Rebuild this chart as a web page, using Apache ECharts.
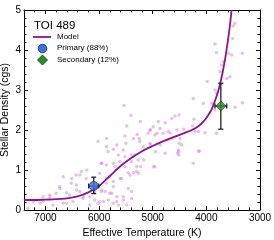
<!DOCTYPE html>
<html>
<head>
<meta charset="utf-8">
<script src="https://cdn.jsdelivr.net/npm/echarts@6/dist/echarts.min.js"></script>
<style>
html,body{margin:0;padding:0;background:#fff;}
#chart{width:274px;height:240px;}
</style>
</head>
<body>
<div id="chart"></div>
<script>
// Model curve (Teff, density)
const modelTeff = [7400, 7200, 7000, 6800, 6600, 6400, 6200, 6000, 5800, 5600, 5400, 5200, 5000, 4800, 4600, 4400, 4300, 4200, 4100, 4000, 3900, 3800, 3750, 3700, 3650, 3600, 3560, 3530];
const modelRho  = [0.25, 0.25, 0.26, 0.27, 0.29, 0.34, 0.44, 0.6, 0.85, 1.1, 1.3, 1.47, 1.6, 1.72, 1.83, 1.93, 1.98, 2.05, 2.15, 2.3, 2.52, 2.88, 3.12, 3.42, 3.78, 4.22, 4.62, 5.0];

// Background stellar sample [Teff, density]
const sampleTeff = [6020,5960,5990,6425,6330,6670,6520,6735,6240,6425,6360,6610,6800,6920,7045,6175,6080,6300,6490,6670,6860,7045,7230,7325,6175,6020,5960,6550,6080,
5536,5405,4510,4585,4645,4770,4895,4990,4865,5050,5085,4960,4805,4710,4645,4490,4505,4525,4535,5485,5290,5250,5240,5360,5520,5500,5670,5550,5830,5735,5640,5520,5330,5270,5395,5610,5735,5860,5950,5705,5520,5300,5300,5455,5360,4960,5800,5610,5735,5860,5455,5890,5765,5670,5830,5550,5920,5735,5395,5640,5950,5860,5175,5050,
3500,3470,3510,3840,3810,3590,3530,3330,3715,3685,3560,3620,3745,3985,3840,3810,4245,4055,3900,3325,3840,3935,3465,4230,4420,4255,4210,4025,3810,4460,4135,4245,
5230,5045,4920,4670,4550,4145,4515,4515,4145,4985,5045,4860,4735,5265,5170,5230,4950,4770,
5860,5395,6230,6355,6510,6420,6295,5985,5800,5670,5550,5395,5485,5735,5580,5425,5860,6730,6915,6605,7100];
const sampleRho = [1.71,1.17,0.92,0.875,0.96,0.83,0.67,0.58,0.79,0.625,0.46,0.43,0.42,0.375,0.33,0.33,0.25,0.29,0.21,0.17,0.125,0.21,0.21,0.04,0.125,0.17,0.46,0.375,0.46,
2.61,2.36,2.375,2.35,2.29,2.18,2.21,2.08,2.04,2.0,1.92,1.875,1.92,1.96,1.79,1.79,1.67,1.5,1.42,2.1,1.89,1.79,1.71,1.79,1.85,1.67,1.625,1.5,1.46,1.52,1.375,1.33,1.375,1.25,1.21,1.21,1.17,1.125,1.17,1.08,1.08,1.08,0.96,0.93,0.93,1.08,0.83,0.79,0.71,0.67,0.54,0.46,0.42,0.33,0.25,0.25,0.21,0.17,0.29,0.125,0.5,1.58,1.58,1.67,
4.6,4.67,4.29,4.15,3.94,3.92,3.875,3.92,3.625,3.71,3.33,3.29,3.46,3.21,3.0,2.92,2.79,2.67,2.67,2.68,2.5,2.43,2.57,2.27,2.02,2.1,1.96,1.93,1.92,1.625,1.48,1.17,
2.21,2.0,1.92,1.92,2.0,1.96,1.46,1.375,1.46,1.08,1.625,1.625,1.75,0.92,1.25,1.08,1.46,1.42,
1.79,1.375,1.0,0.875,0.79,0.5,0.33,0.21,0.42,0.21,0.33,0.46,0.125,0.58,0.79,0.875,0.79,0.54,0.33,0.17,0.17];

// TOI 489 solutions: [Teff, density, TeffErr, rhoErrHigh, rhoErrLow]
const primaryPoint = [6100, 0.6, 95, 0.22, 0.19];
const secondaryPoint = [3730, 2.6, 110, 0.57, 0.58];

const xTicks = [3000, 4000, 5000, 6000, 7000];
const legendLabels = ['Model', 'Primary (88%)', 'Secondary (12%)'];
const titleText = 'TOI 489';

const FONT = 'Liberation Sans, Arial, sans-serif';
const chart = echarts.init(document.getElementById('chart'), null, {renderer: 'canvas'});

function errBar(params, api) {
  const x = api.value(0), y = api.value(1), ex = api.value(2), eh = api.value(3), el = api.value(4);
  const c = api.coord([x, y]);
  const top = api.coord([x, y + eh]);
  const bot = api.coord([x, y - el]);
  const left = api.coord([x + ex, y]);
  const right = api.coord([x - ex, y]);
  const cap = 2.5;
  const st = {stroke: '#222', lineWidth: 1.3};
  return {
    type: 'group',
    children: [
      {type: 'line', shape: {x1: c[0], y1: top[1], x2: c[0], y2: bot[1]}, style: st},
      {type: 'line', shape: {x1: c[0] - cap, y1: top[1], x2: c[0] + cap, y2: top[1]}, style: st},
      {type: 'line', shape: {x1: c[0] - cap, y1: bot[1], x2: c[0] + cap, y2: bot[1]}, style: st},
      {type: 'line', shape: {x1: left[0], y1: c[1], x2: right[0], y2: c[1]}, style: st},
      {type: 'line', shape: {x1: left[0], y1: c[1] - cap, x2: left[0], y2: c[1] + cap}, style: st},
      {type: 'line', shape: {x1: right[0], y1: c[1] - cap, x2: right[0], y2: c[1] + cap}, style: st}
    ]
  };
}

const axisCommon = {
  axisLine: {show: true, onZero: false, lineStyle: {color: '#000', width: 1}},
  axisTick: {show: true, inside: true, length: 4, lineStyle: {color: '#000', width: 1}},
  minorTick: {show: true, splitNumber: 5, length: 2.5, lineStyle: {color: '#000', width: 1}},
  splitLine: {show: false},
  minorSplitLine: {show: false}
};

const option = {
  animation: false,
  backgroundColor: '#fff',
  grid: {left: 24, right: 14, top: 10, bottom: 30, containLabel: false, outerBoundsMode: 'none'},
  xAxis: [
    Object.assign({
      type: 'value', min: 3000, max: 7400, interval: 1000, inverse: true, position: 'bottom',
      name: 'Effective Temperature (K)', nameLocation: 'middle', nameGap: 15,
      nameTextStyle: {fontFamily: FONT, fontSize: 10.5, color: '#000'},
      axisLabel: {fontFamily: FONT, fontSize: 10, color: '#000', margin: 3,
        formatter: v => xTicks.indexOf(v) >= 0 ? String(v) : ''}
    }, axisCommon),
    Object.assign({
      type: 'value', min: 3000, max: 7400, interval: 1000, inverse: true, position: 'top',
      axisLabel: {show: false}
    }, axisCommon)
  ],
  yAxis: [
    Object.assign({
      type: 'value', min: 0, max: 5, interval: 1, position: 'left',
      name: 'Stellar Density (cgs)', nameLocation: 'middle', nameGap: 13, nameMoveOverlap: false,
      nameTextStyle: {fontFamily: FONT, fontSize: 10.5, color: '#000'},
      axisLabel: {fontFamily: FONT, fontSize: 10, color: '#000', margin: 3}
    }, axisCommon),
    Object.assign({
      type: 'value', min: 0, max: 5, interval: 1, position: 'right',
      axisLabel: {show: false}
    }, axisCommon)
  ],
  series: [
    {
      type: 'scatter', name: 'sample', symbol: 'circle', symbolSize: 3.5,
      itemStyle: {color: 'rgba(200,128,210,0.6)'},
      data: sampleTeff.map((t, i) => [t, sampleRho[i]]),
      z: 1, silent: true
    },
    {
      type: 'line', name: legendLabels[0], smooth: 0.3, showSymbol: false, symbol: 'none',
      lineStyle: {color: '#8b1591', width: 1.8},
      data: modelTeff.map((t, i) => [t, modelRho[i]]),
      z: 2, clip: true
    },
    {
      type: 'custom', name: 'errors', renderItem: errBar,
      data: [primaryPoint, secondaryPoint],
      encode: {x: 0, y: 1}, z: 3
    },
    {
      type: 'scatter', name: legendLabels[1], symbol: 'circle', symbolSize: 9,
      itemStyle: {color: '#3d6fe0', borderColor: '#1a2a60', borderWidth: 0.8},
      data: [[primaryPoint[0], primaryPoint[1]]], z: 4
    },
    {
      type: 'scatter', name: legendLabels[2], symbol: 'diamond', symbolSize: [10, 10],
      itemStyle: {color: '#2f8a2a', borderColor: '#103810', borderWidth: 0.8},
      data: [[secondaryPoint[0], secondaryPoint[1]]], z: 4
    }
  ],
  graphic: [
    {type: 'text', left: 34, top: 20, style: {text: titleText, font: '11.5px ' + FONT, fill: '#000'}},
    {type: 'line', shape: {x1: 33, y1: 37, x2: 51, y2: 37}, style: {stroke: '#8b1591', lineWidth: 1.8}},
    {type: 'text', left: 57, top: 32.5, style: {text: legendLabels[0], font: '8px ' + FONT, fill: '#000'}},
    {type: 'circle', shape: {cx: 42.5, cy: 48.5, r: 4.3}, style: {fill: '#3d6fe0', stroke: '#1a2a60', lineWidth: 0.8}},
    {type: 'text', left: 57, top: 44, style: {text: legendLabels[1], font: '8px ' + FONT, fill: '#000'}},
    {type: 'polygon', shape: {points: [[42.5, 55], [47.5, 60], [42.5, 65], [37.5, 60]]}, style: {fill: '#2f8a2a', stroke: '#103810', lineWidth: 0.8}},
    {type: 'text', left: 57, top: 55.5, style: {text: legendLabels[2], font: '8px ' + FONT, fill: '#000'}}
  ]
};
chart.setOption(option);
</script>
</body>
</html>
